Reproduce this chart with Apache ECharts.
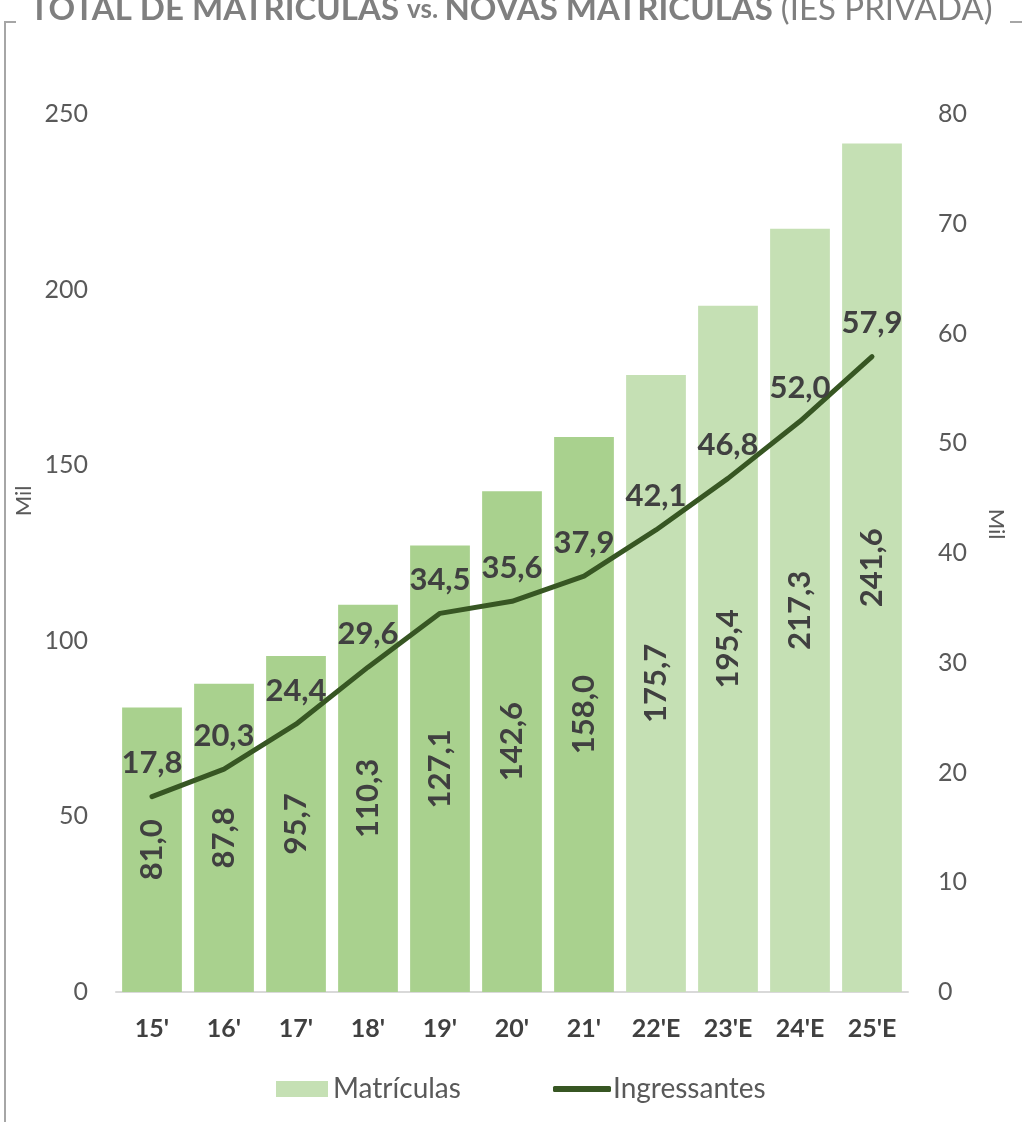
<!DOCTYPE html>
<html><head><meta charset="utf-8">
<script src="https://cdn.jsdelivr.net/npm/echarts@6/dist/echarts.min.js"></script>
<style>html,body{margin:0;padding:0;background:#fff}#c{width:1022px;height:1122px}</style>
</head><body><div id="c"></div>
<script>
const categories = ["15'", "16'", "17'", "18'", "19'", "20'", "21'", "22'E", "23'E", "24'E", "25'E"];
const matriculas = [81.0, 87.8, 95.7, 110.3, 127.1, 142.6, 158.0, 175.7, 195.4, 217.3, 241.6];
const ingressantes = [17.8, 20.3, 24.4, 29.6, 34.5, 35.6, 37.9, 42.1, 46.8, 52.0, 57.9];
const estimated = [false, false, false, false, false, false, false, true, true, true, true];

const fmt = v => v.toFixed(1).replace('.', ',');
const chart = echarts.init(document.getElementById('c'));
const F = 'Lato, "Noto Sans", sans-serif';
chart.setOption({
  animation: false,
  textStyle: { fontFamily: F },
  title: {
    text: '{b|TOTAL DE MATRICULAS }{s|vs. }{b|NOVAS MATRICULAS }{n|(IES PRIVADA)}',
    left: 'center', top: -12,
    textStyle: {
      rich: {
        b: { fontFamily: F, fontWeight: 'bold', fontSize: 33, color: '#7f7f7f' },
        s: { fontFamily: F, fontWeight: 'bold', fontSize: 26, color: '#7f7f7f' },
        n: { fontFamily: F, fontWeight: 'normal', fontSize: 33, color: '#7f7f7f' }
      }
    }
  },
  graphic: [
    { type: 'polyline', shape: { points: [[16, 22], [5, 22], [5, 1122]] }, style: { stroke: '#a6a6a6', lineWidth: 2, fill: null } },
    { type: 'line', shape: { x1: 1010, y1: 22, x2: 1022, y2: 22 }, style: { stroke: '#a6a6a6', lineWidth: 2 } },
    { type: 'text', x: 24, y: 501, rotation: Math.PI / 2,
      style: { text: 'Mil', fontSize: 22, fill: '#595959', fontFamily: F, align: 'center', verticalAlign: 'middle' } },
    { type: 'text', x: 996, y: 524, rotation: -Math.PI / 2,
      style: { text: 'Mil', fontSize: 22, fill: '#595959', fontFamily: F, align: 'center', verticalAlign: 'middle' } }
  ],
  legend: [
    {
      top: 1070, left: 271, itemWidth: 52, itemHeight: 16,
      textStyle: { fontSize: 28, color: '#595959', fontFamily: F, padding: [0, 0, 0, 0] },
      data: [{ name: 'Matrículas', icon: 'rect', itemStyle: { color: '#c5e0b4' } }]
    },
    {
      top: 1070, left: 548, itemWidth: 58, itemHeight: 6,
      textStyle: { fontSize: 28, color: '#595959', fontFamily: F, padding: [0, 0, 0, -3] },
      data: [{ name: 'Ingressantes', icon: 'roundRect', itemStyle: { color: '#375623' } }]
    }
  ],
  grid: { left: 116, right: 114, top: 114, bottom: 130 },
  xAxis: {
    type: 'category', data: categories,
    axisLine: { lineStyle: { color: '#d9d9d9', width: 2 } },
    axisTick: { show: false },
    axisLabel: { fontSize: 25, fontWeight: 'bold', color: '#404040', margin: 24, fontFamily: F }
  },
  yAxis: [
    {
      type: 'value', min: 0, max: 250, interval: 50,
      splitLine: { show: false }, axisLine: { show: false }, axisTick: { show: false },
      axisLabel: { fontSize: 25, color: '#595959', margin: 28, fontFamily: F }
    },
    {
      type: 'value', min: 0, max: 80, interval: 10,
      splitLine: { show: false }, axisLine: { show: false }, axisTick: { show: false },
      axisLabel: { fontSize: 25, color: '#595959', margin: 30, fontFamily: F }
    }
  ],
  series: [
    {
      name: 'Matrículas', type: 'bar', yAxisIndex: 0, barCategoryGap: '17%',
      data: matriculas.map((v, i) => ({ value: v, itemStyle: { color: estimated[i] ? '#c5e0b4' : '#a9d18e' } })),
      label: {
        show: true, position: 'inside', rotate: 90,
        fontSize: 31, fontWeight: 'bold', color: '#404040', fontFamily: F,
        formatter: p => fmt(p.value)
      }
    },
    {
      name: 'Ingressantes', type: 'line', yAxisIndex: 1, data: ingressantes,
      symbol: 'circle', symbolSize: 0, showSymbol: true,
      lineStyle: { color: '#375623', width: 5, cap: 'round' },
      itemStyle: { color: '#375623' },
      label: {
        show: true, position: 'top', distance: 18,
        fontSize: 31, fontWeight: 'bold', color: '#404040', fontFamily: F,
        formatter: p => fmt(p.value)
      }
    }
  ]
});
</script></body></html>
